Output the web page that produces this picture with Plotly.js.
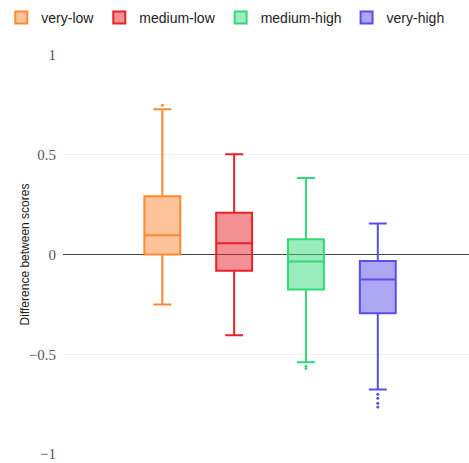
<!DOCTYPE html>
<html>
<head>
<meta charset="utf-8">
<script src="https://cdn.plot.ly/plotly-3.0.1.min.js"></script>
<style>html,body{margin:0;padding:0;background:#fff;}#chart{width:469px;height:463px;}</style>
</head>
<body>
<div id="chart"></div>
<script>
// Data
const categories = ["very-low", "medium-low", "medium-high", "very-high"];
const lowerFence = [-0.25, -0.405, -0.54, -0.677];
const q1Values = [0.0, -0.082, -0.175, -0.294];
const medianValues = [0.097, 0.057, -0.035, -0.125];
const q3Values = [0.292, 0.209, 0.077, -0.033];
const upperFence = [0.728, 0.503, 0.384, 0.155];
const outlierValues = [[0.748], [], [-0.56, -0.572], [-0.70, -0.72, -0.745, -0.765]];

const lineColors = ["#ff8833", "#e8222a", "#33d977", "#5a4ee8"];
const fillColors = ["rgba(255,136,51,0.5)", "rgba(232,34,42,0.5)", "rgba(51,217,119,0.5)", "rgba(90,78,232,0.5)"];

const traces = [];
categories.forEach((name, i) => {
  traces.push({
    type: "box",
    name: name,
    x: [i],
    q1: [q1Values[i]],
    median: [medianValues[i]],
    q3: [q3Values[i]],
    lowerfence: [lowerFence[i]],
    upperfence: [upperFence[i]],
    width: 0.5,
    whiskerwidth: 0.5,
    line: {color: lineColors[i], width: 2},
    fillcolor: fillColors[i],
    boxpoints: false,
    hoverinfo: "none"
  });
});
categories.forEach((name, i) => {
  if (outlierValues[i].length) {
    traces.push({
      type: "scatter",
      mode: "markers",
      x: outlierValues[i].map(() => i),
      y: outlierValues[i],
      marker: {color: lineColors[i], size: 3},
      showlegend: false,
      hoverinfo: "none"
    });
  }
});

const layout = {
  width: 469,
  height: 463,
  margin: {l: 63, r: 0, t: 55, b: 9, autoexpand: false},
  paper_bgcolor: "#fff",
  plot_bgcolor: "#fff",
  showlegend: true,
  legend: {
    orientation: "h",
    xref: "paper", yref: "paper",
    x: -0.152, xanchor: "left",
    y: 1.133, yanchor: "top",
    font: {family: "Liberation Sans, Arial, sans-serif", size: 14, color: "#222"},
    itemwidth: 30,
    bgcolor: "rgba(0,0,0,0)"
  },
  xaxis: {
    range: [-1.383, 4.27],
    showticklabels: false,
    showgrid: false,
    zeroline: false,
    showline: false,
    ticks: "",
    automargin: false
  },
  yaxis: {
    range: [-1, 1],
    tickvals: [-1, -0.5, 0, 0.5, 1],
    ticktext: ["\u22121", "\u22120.5", "0", "0.5", "1"],
    showgrid: true,
    gridcolor: "#f0f0f0",
    gridwidth: 1,
    zeroline: true,
    zerolinecolor: "#444",
    zerolinewidth: 1.5,
    showline: false,
    ticks: "",
    ticklabelstandoff: 6,
    automargin: false,
    tickfont: {family: "Liberation Serif, Times New Roman, serif", size: 15, color: "#555"},
    title: {
      text: "Difference between scores",
      font: {family: "Liberation Sans, Arial, sans-serif", size: 12, color: "#222"}
    }
  }
};

Plotly.newPlot("chart", traces, layout, {displayModeBar: false, staticPlot: true});
</script>
</body>
</html>
